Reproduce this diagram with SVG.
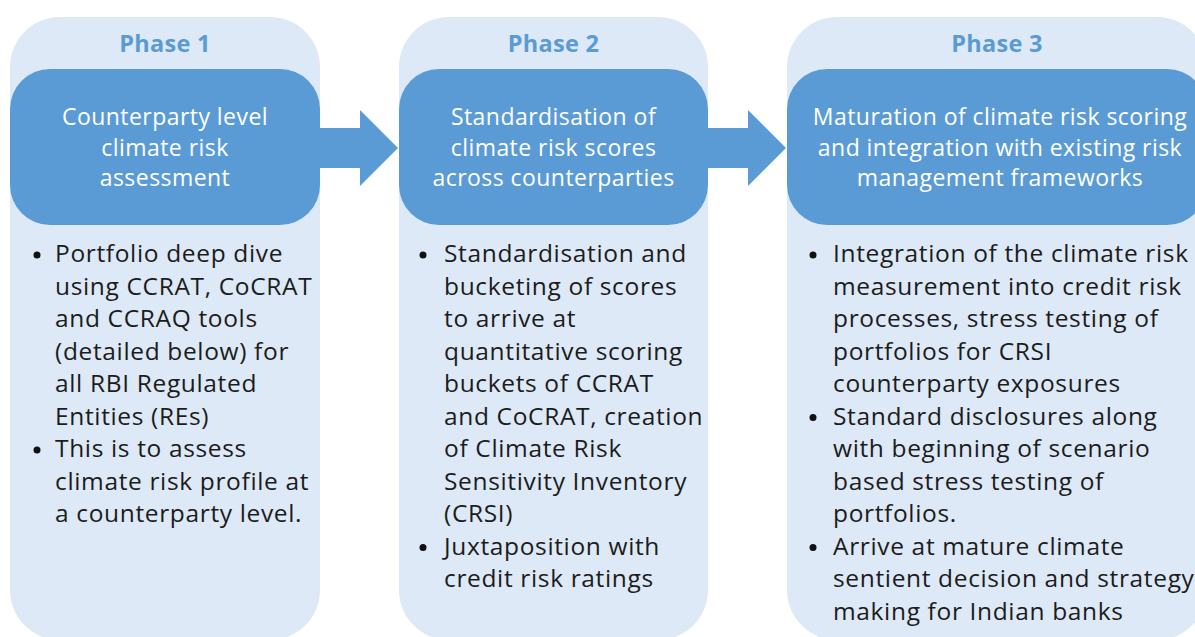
<svg xmlns="http://www.w3.org/2000/svg" width="1195" height="637" viewBox="0 0 1195 637">
  <style>
    .panel { fill: #dde9f6; }
    .head { fill: #5b9bd5; }
    .phase { font-family: "Open Sans", "Liberation Sans", sans-serif; font-weight: 700; font-size: 23.5px; letter-spacing: 0.3px; fill: #5b9bd5; text-anchor: middle; }
    .title { font-family: "Open Sans", "Liberation Sans", sans-serif; font-size: 23px; letter-spacing: 0.45px; fill: #ffffff; text-anchor: middle; }
    .body { font-family: "Open Sans", "Liberation Sans", sans-serif; font-size: 24.5px; letter-spacing: 0.65px; fill: #1c1c1c; }
    .dot { fill: #111111; }
    .arrow { fill: #5b9bd5; }
  </style>
  <rect width="1195" height="637" fill="#ffffff"/>

  <!-- arrows between phases -->
  <g id="connectors">
    <polygon class="arrow" points="318,128 360,128 360,110 398,148 360,186 360,168 318,168"/>
    <polygon class="arrow" points="706,128 748,128 748,110 786,148 748,186 748,168 706,168"/>
  </g>

  <g id="phase1">
    <rect class="panel" x="10" y="17" width="310" height="623" rx="50"/>
    <rect class="head" x="10" y="69" width="310" height="156" rx="40"/>
    <text class="phase" x="165" y="52">Phase 1</text>
    <text class="title" x="165" y="125">Counterparty level</text>
    <text class="title" x="165" y="156">climate risk</text>
    <text class="title" x="165" y="186">assessment</text>
    <circle class="dot" cx="37" cy="255" r="3.5"/>
    <circle class="dot" cx="37" cy="450" r="3.5"/>
    <text class="body" x="55">
      <tspan x="55" y="262">Portfolio deep dive</tspan>
      <tspan x="55" y="294.5">using CCRAT, CoCRAT</tspan>
      <tspan x="55" y="327">and CCRAQ tools</tspan>
      <tspan x="55" y="359.5">(detailed below) for</tspan>
      <tspan x="55" y="392">all RBI Regulated</tspan>
      <tspan x="55" y="424.5">Entities (REs)</tspan>
      <tspan x="55" y="457">This is to assess</tspan>
      <tspan x="55" y="489.5">climate risk profile at</tspan>
      <tspan x="55" y="522">a counterparty level.</tspan>
    </text>
  </g>

  <g id="phase2">
    <rect class="panel" x="399" y="17" width="309" height="623" rx="50"/>
    <rect class="head" x="399" y="69" width="309" height="156" rx="40"/>
    <text class="phase" x="553.5" y="52">Phase 2</text>
    <text class="title" x="553.5" y="125">Standardisation of</text>
    <text class="title" x="553.5" y="156">climate risk scores</text>
    <text class="title" x="553.5" y="186">across counterparties</text>
    <circle class="dot" cx="423" cy="255" r="3.5"/>
    <circle class="dot" cx="423" cy="547.5" r="3.5"/>
    <text class="body" x="444">
      <tspan x="444" y="262">Standardisation and</tspan>
      <tspan x="444" y="294.5">bucketing of scores</tspan>
      <tspan x="444" y="327">to arrive at</tspan>
      <tspan x="444" y="359.5">quantitative scoring</tspan>
      <tspan x="444" y="392">buckets of CCRAT</tspan>
      <tspan x="444" y="424.5">and CoCRAT, creation</tspan>
      <tspan x="444" y="457">of Climate Risk</tspan>
      <tspan x="444" y="489.5">Sensitivity Inventory</tspan>
      <tspan x="444" y="522">(CRSI)</tspan>
      <tspan x="444" y="554.5">Juxtaposition with</tspan>
      <tspan x="444" y="587">credit risk ratings</tspan>
    </text>
  </g>

  <g id="phase3">
    <rect class="panel" x="787" y="17" width="420" height="623" rx="50"/>
    <rect class="head" x="787" y="69" width="420" height="156" rx="40"/>
    <text class="phase" x="997" y="52">Phase 3</text>
    <text class="title" x="1000" y="125">Maturation of climate risk scoring</text>
    <text class="title" x="1000" y="156">and integration with existing risk</text>
    <text class="title" x="1000" y="186">management frameworks</text>
    <circle class="dot" cx="813" cy="255" r="3.5"/>
    <circle class="dot" cx="813" cy="417.5" r="3.5"/>
    <circle class="dot" cx="813" cy="547.5" r="3.5"/>
    <text class="body" x="833">
      <tspan x="833" y="262">Integration of the climate risk</tspan>
      <tspan x="833" y="294.5">measurement into credit risk</tspan>
      <tspan x="833" y="327">processes, stress testing of</tspan>
      <tspan x="833" y="359.5">portfolios for CRSI</tspan>
      <tspan x="833" y="392">counterparty exposures</tspan>
      <tspan x="833" y="424.5">Standard disclosures along</tspan>
      <tspan x="833" y="457">with beginning of scenario</tspan>
      <tspan x="833" y="489.5">based stress testing of</tspan>
      <tspan x="833" y="522">portfolios.</tspan>
      <tspan x="833" y="554.5">Arrive at mature climate</tspan>
      <tspan x="833" y="587">sentient decision and strategy</tspan>
      <tspan x="833" y="619.5">making for Indian banks</tspan>
    </text>
  </g>
</svg>
